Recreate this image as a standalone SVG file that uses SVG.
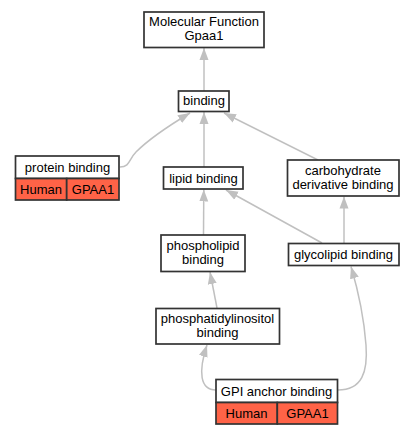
<svg xmlns="http://www.w3.org/2000/svg" width="415" height="435" viewBox="0 0 415 435">
<style>
.n{fill:#fff;stroke:#333;stroke-width:1.7}
.r{fill:#ff6347;stroke:#333;stroke-width:1.7}
.t{font-family:"Liberation Sans",Arial,sans-serif;font-size:13px;fill:#000;text-anchor:middle}
.e{fill:none;stroke:#c0c0c0;stroke-width:1.5;marker-end:url(#a)}
</style>
<defs>
<marker id="a" markerUnits="userSpaceOnUse" markerWidth="14" markerHeight="11" refX="12" refY="4.5" orient="auto" viewBox="0 0 14 9">
<path d="M0,0 L12,4.5 L0,9 z" fill="#c0c0c0"/>
</marker>
</defs>
<rect width="415" height="435" fill="#fff"/>
<g id="edges">
<path class="e" d="M204,91 L204,48"/>
<path class="e" d="M120,167 C130,167 129,159 136,152 C148,140 170,125 190,113"/>
<path class="e" d="M204,167 L204,112"/>
<path class="e" d="M318,160 L224,113"/>
<path class="e" d="M203.5,235 L203.8,189.5"/>
<path class="e" d="M322,243 L226,190"/>
<path class="e" d="M344,243 L344,196.5"/>
<path class="e" d="M217,308 L210,272"/>
<path class="e" d="M216,390 C200,390 198,372 207,345"/>
<path class="e" d="M338,390 C362,390 368,372 366,345 C364,318 358,290 351,266.5"/>
</g>
<g id="mf">
<rect class="n" x="144" y="12" width="120" height="35.5"/>
<text class="t" x="204" y="26">Molecular Function</text>
<text class="t" x="204" y="40">Gpaa1</text>
</g>
<g id="binding">
<rect class="n" x="178.5" y="91" width="50.5" height="20.5"/>
<text class="t" x="204" y="105">binding</text>
</g>
<g id="protein">
<rect class="n" x="15.5" y="156" width="103.5" height="22.5"/>
<rect class="r" x="15.5" y="178.5" width="51.2" height="21.5"/>
<rect class="r" x="66.7" y="178.5" width="52.3" height="21.5"/>
<text class="t" x="67.5" y="171.5">protein binding</text>
<text class="t" x="41" y="194">Human</text>
<text class="t" x="93" y="194">GPAA1</text>
</g>
<g id="lipid">
<rect class="n" x="163.5" y="167" width="79.5" height="22"/>
<text class="t" x="203.5" y="182.5">lipid binding</text>
</g>
<g id="carb">
<rect class="n" x="287.5" y="160" width="111.5" height="36"/>
<text class="t" x="343" y="175">carbohydrate</text>
<text class="t" x="343" y="189">derivative binding</text>
</g>
<g id="phospholipid">
<rect class="n" x="161" y="235" width="84" height="36.5"/>
<text class="t" x="203" y="250">phospholipid</text>
<text class="t" x="203" y="264">binding</text>
</g>
<g id="glycolipid">
<rect class="n" x="288.5" y="243.5" width="110.5" height="22"/>
<text class="t" x="343.5" y="259">glycolipid binding</text>
</g>
<g id="pi">
<rect class="n" x="156" y="308.5" width="123.5" height="35.5"/>
<text class="t" x="217.5" y="323">phosphatidylinositol</text>
<text class="t" x="217.5" y="337">binding</text>
</g>
<g id="gpi">
<rect class="n" x="216" y="379.5" width="121.5" height="23"/>
<rect class="r" x="216" y="402.5" width="61.3" height="21.5"/>
<rect class="r" x="277.3" y="402.5" width="60.2" height="21.5"/>
<text class="t" x="276.5" y="395.5">GPI anchor binding</text>
<text class="t" x="246.5" y="418">Human</text>
<text class="t" x="307.5" y="418">GPAA1</text>
</g>
</svg>
